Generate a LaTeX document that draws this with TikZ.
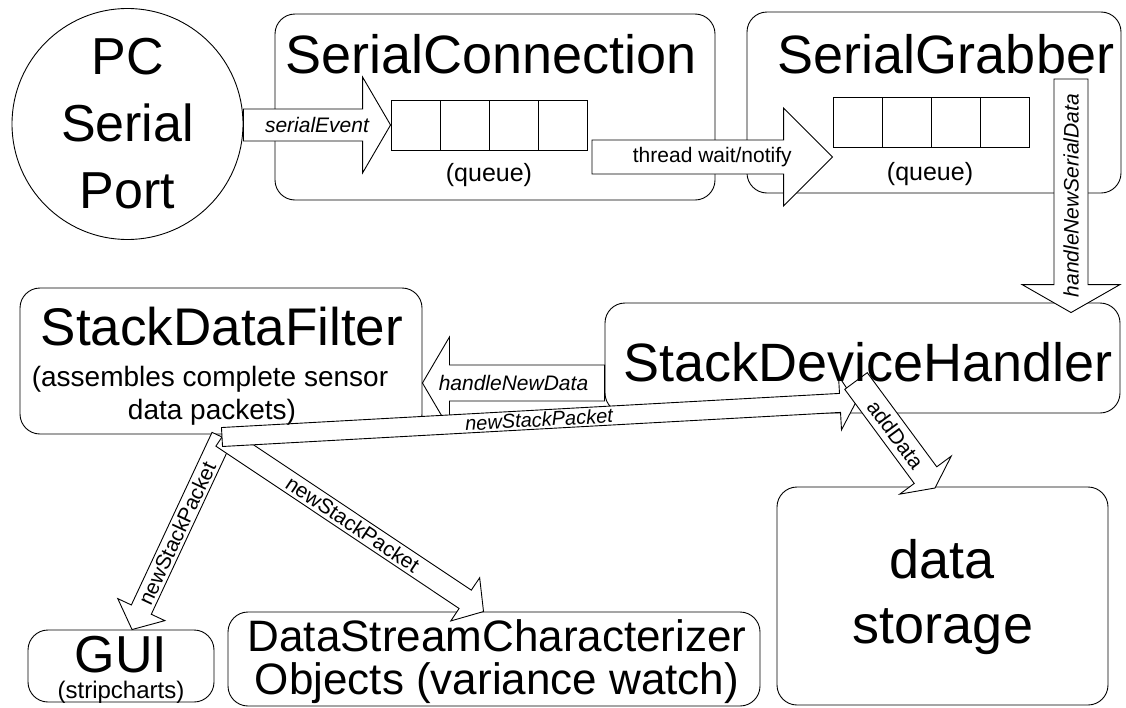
\documentclass[tikz,border=0pt]{standalone}
\usepackage{fontspec}
\setmainfont{Liberation Sans}
\usepackage{tikz}
\usetikzlibrary{calc}

% fat arrow between two points:
% [label style]{from}{to}{shaft half width}{head half width}{head length}{label}
\newcommand{\fatarrow}[7][]{%
  \path let \p1=(#2), \p2=(#3) in \pgfextra{%
    \pgfmathsetmacro{\tmpang}{atan2(\y2-\y1,\x2-\x1)}%
    \pgfmathsetmacro{\tmplen}{veclen(\x2-\x1,\y2-\y1)}%
    \xdef\arrang{\tmpang}\xdef\arrlen{\tmplen}};
  \begin{scope}[shift={(#2)}, rotate=\arrang]
    \draw[fill=white] (0,#4) -- (\arrlen-#6,#4) -- (\arrlen-#6,#5) -- (\arrlen,0)
      -- (\arrlen-#6,-#5) -- (\arrlen-#6,-#4) -- (0,-#4) -- cycle;
    \node[lbl, transform shape, #1] at (\arrlen/2,0) {#7};
  \end{scope}}

\begin{document}
\begin{tikzpicture}[x=1pt, y=-1pt, line width=0.9pt,
    box/.style={draw, rounded corners=20pt},
    cell/.style={draw, minimum width=49pt, minimum height=50pt, inner sep=0pt},
    port/.style={draw, circle, minimum size=231pt, inner sep=0pt, align=center,
      font=\fontsize{52}{67}\selectfont},
    title/.style={anchor=base, inner sep=0pt, font=\fontsize{54}{60}\selectfont},
    note/.style={anchor=base, inner sep=0pt, font=\fontsize{25}{30}\selectfont},
    lbl/.style={inner sep=0pt, font=\fontsize{21}{24}\selectfont},
    ital/.style={font=\fontsize{21}{24}\selectfont\itshape}]
    \useasboundingbox (0,0) rectangle (1126,707);

    % boxes
    \node[port] (port) at (127.5,124) {PC\\Serial\\Port};
    \node[box, minimum width=440, minimum height=186] (conn)  at (495,107)   {};
    \node[box, minimum width=374, minimum height=181] (grab)  at (934,102.5) {};
    \node[box, minimum width=402, minimum height=146] (filt)  at (221,361)   {};
    \node[box, minimum width=515, minimum height=110] (dev)   at (862.5,358) {};
    \node[box, minimum width=186, minimum height=72]  (gui)   at (121,666)   {};
    \node[box, minimum width=532, minimum height=94]  (dsc)   at (494,659)   {};
    \node[box, minimum width=331, minimum height=218] (store) at (942.5,596) {};

    % queues
    \foreach \i in {0,...,3} {
        \node[cell] (qa\i) at (415.5+49*\i,125) {};
        \node[cell] (qb\i) at (857.5+49*\i,122.5) {};
    }

    % arrow ends
    \coordinate (tw)  at (592,157);
    \coordinate (hs)  at (1071,79);
    \coordinate (hd)  at (dev.west |- 0,383);
    \coordinate (fan) at (222,437);
    \coordinate (pk)  at (856,402);
    \coordinate (ad)  at (856,381);
    \coordinate (st)  at (935,488);

    % calls between the objects
    \fatarrow[ital]{port.east |- qa0.west}{qa0.west}{16}{48}{28}{serialEvent}
    \fatarrow{tw}{qb0.west |- tw}{17}{49}{49}{thread wait/notify}
    \fatarrow[ital, rotate=180]{hs}{$(hs |- dev.north)+(0,10)$}{17}{49}{28}{handleNewSerialData}
    \fatarrow[ital, rotate=180]{hd}{filt.east |- hd}{18}{46}{27}{handleNewData}
    \fatarrow[rotate=180]{fan}{$(gui.north)+(11,0)$}{11}{26}{22}{newStackPacket}
    \fatarrow{fan}{$(dsc.north west)+(256,0)$}{11}{26}{22}{newStackPacket}
    \fatarrow[font=\fontsize{20}{24}\selectfont\itshape]{fan}{pk}{9.5}{27}{16}{newStackPacket}
    \fatarrow{ad}{st}{14}{32}{16}{addData}

    % texts
    \node[title] (conntitle) at (491,73) {SerialConnection};
    \node[note]  (qanote)    at (489,181) {(queue)};
    \node[title] (grabtitle) at (946,73) {SerialGrabber};
    \node[note]  (qbnote)    at (930,180) {(queue)};
    \node[title, font=\fontsize{53}{60}\selectfont] (filttitle) at (222,345) {StackDataFilter};
    \node[note, font=\fontsize{28}{32}\selectfont] (filtnote1) at (210,386) {(assembles complete sensor};
    \node[note, font=\fontsize{28}{32}\selectfont] (filtnote2) at (212,419) {data packets)};
    \node[title] (devtitle)  at (868,381) {StackDeviceHandler};
    \node[title, font=\fontsize{52}{60}\selectfont] (guititle) at (121,672) {GUI};
    \node[note, font=\fontsize{24}{28}\selectfont] (guinote) at (121,698) {(stripcharts)};
    \node[title, font=\fontsize{44}{50}\selectfont] (dsc1) at (497,651) {DataStreamCharacterizer};
    \node[title, font=\fontsize{44}{50}\selectfont] (dsc2) at (497,694) {Objects (variance watch)};
    \node[title] (store1) at (942,578) {data};
    \node[title] (store2) at (943,643) {storage};
\end{tikzpicture}
\end{document}
